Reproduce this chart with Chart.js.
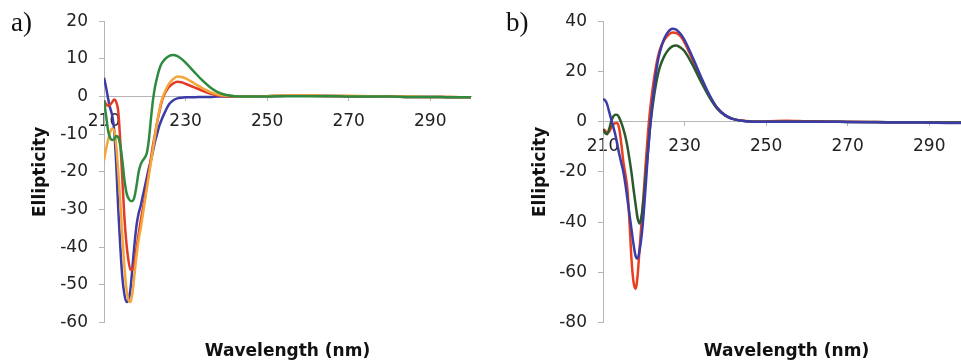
<!DOCTYPE html>
<html>
<head>
<meta charset="utf-8">
<script src="https://cdn.jsdelivr.net/npm/chart.js@4.4.1/dist/chart.umd.min.js"></script>
<style>
  html, body { margin: 0; padding: 0; background: #fff; overflow: hidden; }
  body { width: 961px; height: 364px; position: relative; }
  .panel { position: absolute; top: 0; height: 364px; }
  #panelA { left: 0; width: 480px; }
  #panelB { left: 480px; width: 500px; }
  .tag { position: absolute; top: 9px; font-family: "Liberation Serif", serif; font-size: 27px; line-height: 27px; color: #111; }
</style>
</head>
<body>
<div class="panel" id="panelA"><canvas id="chartA" width="480" height="364"></canvas></div>
<div class="panel" id="panelB"><canvas id="chartB" width="500" height="364"></canvas></div>
<div class="tag" style="left:11px">a)</div>
<div class="tag" style="left:506px">b)</div>
<script>
// wavelength grid (nm), shared by every curve
const wavelengths = [210, 210.5, 211, 211.5, 212, 212.5, 213, 213.5, 214, 214.5, 215, 215.5, 216, 216.5,
  217, 217.5, 218, 218.5, 219, 219.5, 220, 220.5, 221, 221.5, 222, 222.5, 223, 223.5, 224,
  225, 226, 227, 228, 229, 230, 232, 234, 236, 238, 240, 242, 245,
  250, 255, 260, 265, 270, 275, 280, 285, 290, 295, 300];
const xTickValues = [210, 230, 250, 270, 290];

// panel a
const blueA = [5, 2.5, -0.5, -3, -5, -9, -18, -30, -40, -48, -52.5, -54.5, -54, -51,
  -45, -39, -34, -31, -29, -26.5, -24, -21.5, -19, -17, -14.5, -12, -10, -8, -6.5,
  -4, -2, -1, -0.5, -0.3, -0.2, -0.2, -0.1, -0.1, 0, 0, 0, 0,
  0.1, 0.2, 0.2, 0.2, 0.1, 0, 0, -0.1, -0.1, -0.2, -0.2];
const redA = [-1, -2, -2.5, -2.2, -1.5, -0.8, -1.5, -4, -12, -22, -32, -39, -43.5, -46,
  -46, -44, -40, -36.5, -33, -30, -27, -23.5, -20, -16.5, -13, -10, -7, -4.5, -2,
  1, 2.6, 3.5, 3.9, 3.8, 3.4, 2.5, 1.6, 0.8, 0.3, 0.1, 0, 0,
  0.1, 0.2, 0.2, 0.1, 0.1, 0, 0, -0.1, -0.1, -0.1, -0.2];
const orangeA = [-17, -14, -11.5, -9.5, -8.5, -9, -13, -20, -28, -37, -45, -51, -54, -54.5,
  -52, -47, -42, -38, -35, -31.5, -28, -24.5, -21, -17.5, -14, -10.5, -7, -4, -1.5,
  1.5, 3.5, 4.7, 5.3, 5.2, 4.8, 3.6, 2.3, 1.2, 0.5, 0.2, 0.1, 0,
  0.1, 0.3, 0.3, 0.2, 0.2, 0.1, 0, 0, -0.1, -0.1, -0.2];
const greenA = [-1, -5, -9, -11, -11.5, -11.3, -10.5, -10.8, -13, -17, -22, -25.5, -27, -27.7,
  -27.7, -26.5, -23.5, -20, -18, -17, -16.2, -15, -11.5, -6, -1, 2.5, 5, 7, 8.5,
  10, 10.8, 11, 10.7, 10, 9, 6.7, 4.4, 2.5, 1.1, 0.4, 0.1, 0,
  0, 0.1, 0.1, 0.1, 0, 0, 0, -0.1, -0.1, -0.2, -0.2];

// panel b
const blueB = [9, 8.5, 7, 4, 1, -2, -5, -9, -13, -16.5, -20, -25, -31, -37,
  -43, -49, -53.5, -54.5, -51, -45, -36, -25, -13, -3, 6, 13, 19.5, 24.5, 28,
  33, 35.8, 37, 36.6, 35, 32.5, 25.5, 18, 11, 5.5, 2.5, 1, 0.2,
  0, 0, 0, 0, -0.1, -0.2, -0.3, -0.3, -0.4, -0.5, -0.5];
const redB = [-3, -3.5, -4.5, -4, -2.5, -1.2, -0.6, -0.5, -3, -9, -16, -21, -27, -40,
  -55, -64, -66.5, -61, -50, -39, -28, -16, -5, 4, 11, 17, 22, 26, 29,
  32.5, 34.5, 35.5, 35.3, 34, 31.5, 24.5, 17, 10.5, 5.5, 2.5, 1, 0.3,
  0.1, 0.4, 0.2, 0.1, 0, -0.1, -0.2, -0.2, -0.3, -0.4, -0.4];
const greenB = [-3, -4.5, -5, -3, 0, 2, 2.8, 2.7, 1.5, -0.5, -3, -6, -10, -15,
  -20.5, -27, -33, -38.5, -40.5, -37, -30, -21, -12, -3, 4, 10, 15, 19, 22,
  26, 28.5, 30, 30.3, 29.5, 28, 22.5, 16, 10, 5.2, 2.4, 1, 0.2,
  0, 0, 0, 0, -0.1, -0.1, -0.2, -0.2, -0.3, -0.3, -0.3];

const axisGray = '#b5b5b5';
const tickFont = { family: 'DejaVu Sans', size: 17 };
const titleFont = { family: 'DejaVu Sans', size: 17, weight: 'bold' };

function curve(values, color) {
  return {
    data: wavelengths.map((w, i) => ({ x: w, y: values[i] })),
    borderColor: color,
    borderWidth: 2.5,
    pointRadius: 0,
    cubicInterpolationMode: 'monotone',
    fill: false
  };
}

function makePanel(id, datasets, yMin, yMax, yStep, xMax, axisWidth, titlePad, padRight) {
  new Chart(document.getElementById(id), {
    type: 'line',
    data: { datasets: datasets },
    options: {
      responsive: false,
      animation: false,
      layout: { padding: { top: 19, right: padRight, bottom: 0, left: 0 } },
      plugins: {
        legend: { display: false },
        tooltip: { enabled: false },
        title: {
          display: true,
          text: 'Wavelength (nm)',
          position: 'bottom',
          fullSize: false,
          color: '#111',
          font: titleFont,
          padding: { top: 19, bottom: 2 }
        }
      },
      scales: {
        x: {
          type: 'linear',
          position: { y: 0 },
          min: 210,
          max: xMax,
          z: 1,
          afterBuildTicks: s => { s.ticks = xTickValues.map(v => ({ value: v })); },
          ticks: { color: '#222', font: tickFont, padding: 11, maxRotation: 0, autoSkip: false },
          grid: { drawOnChartArea: false, tickLength: 4, color: axisGray },
          border: { color: axisGray }
        },
        y: {
          min: yMin,
          max: yMax,
          ticks: { stepSize: yStep, color: '#222', font: tickFont, padding: 11 },
          grid: { drawOnChartArea: false, tickLength: 5, color: axisGray },
          border: { color: axisGray },
          title: { display: true, text: 'Ellipticity', color: '#111', font: titleFont, padding: { top: titlePad, bottom: 0 } },
          afterFit: s => { s.width = axisWidth; }
        }
      }
    }
  });
}

makePanel('chartA', [
  curve(greenA, '#2e8a3e'),
  curve(orangeA, '#f5a53a'),
  curve(redA, '#e03c28'),
  curve(blueA, '#3c3ca8')
], -60, 20, 10, 300, 104, 30, 9);

makePanel('chartB', [
  curve(blueB, '#3c3ca8'),
  curve(greenB, '#2c5a2c'),
  curve(redB, '#e8401f')
], -80, 40, 20, 300, 123, 50, 10);
</script>
</body>
</html>
